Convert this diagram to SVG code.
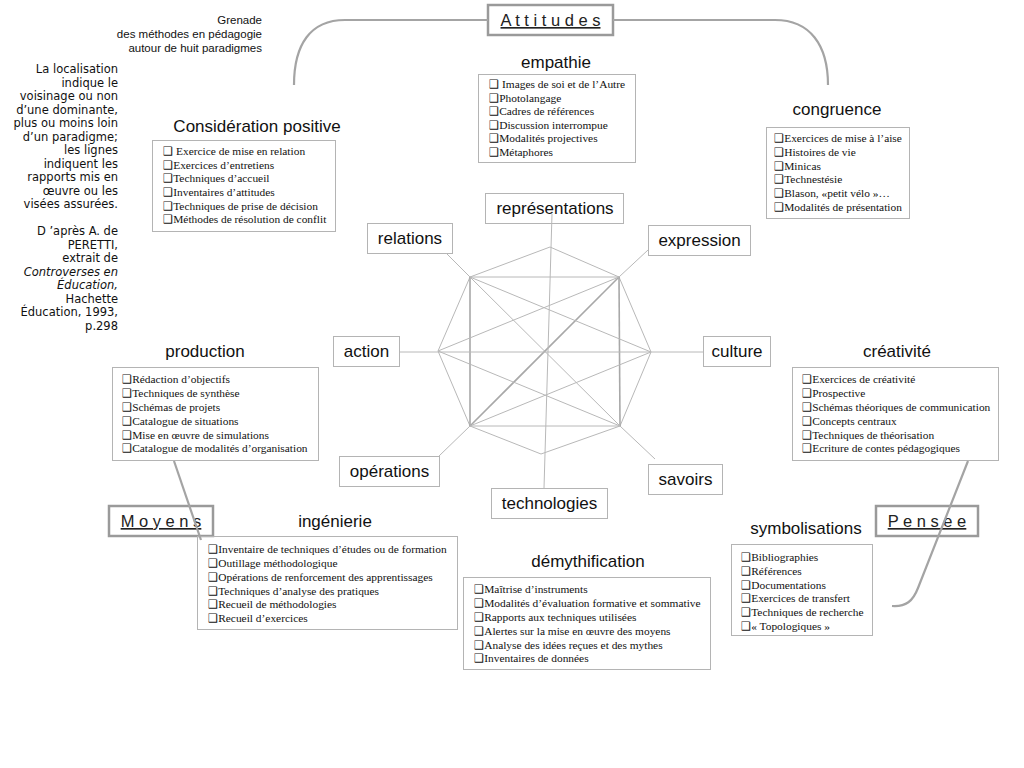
<svg xmlns="http://www.w3.org/2000/svg" width="1024" height="768" viewBox="0 0 1024 768">
<style>
.bg{fill:#ffffff}
.box{fill:none;stroke:#b4b4b4;stroke-width:1}
.hbox{fill:none;stroke:#9a9a9a;stroke-width:2.5}
.lbl{font-family:"Liberation Sans",Arial,sans-serif;font-size:17px;fill:#111;text-anchor:middle}
.ttl{font-family:"Liberation Sans",Arial,sans-serif;font-size:17px;fill:#111;text-anchor:middle}
.big{font-family:"Liberation Sans",Arial,sans-serif;font-size:16.5px;fill:#222;text-anchor:middle;text-decoration:underline}
.it{font-family:"Liberation Serif","Times New Roman","DejaVu Sans",serif;font-size:11.4px;fill:#111}
.hd{font-family:"Liberation Sans",Arial,sans-serif;font-size:11.5px;fill:#111;text-anchor:end}
.nt{font-family:"DejaVu Sans",sans-serif;font-size:11.5px;fill:#111;text-anchor:end}
.ln{fill:none;stroke:#b8b8b8;stroke-width:1}
.lnb{fill:none;stroke:#a8a8a8;stroke-width:1.6}
.arc{fill:none;stroke:#a4a4a4;stroke-width:2.2}
</style>
<rect class="bg" x="0" y="0" width="1024" height="768"/>

<g id="header">
<text class="hd" x="262" y="24">Grenade</text>
<text class="hd" x="262" y="38">des méthodes en pédagogie</text>
<text class="hd" x="262" y="52">autour de huit paradigmes</text>
</g>

<g id="note">
<text class="nt" x="118" y="73">La localisation</text>
<text class="nt" x="118" y="86.5">indique le</text>
<text class="nt" x="118" y="100">voisinage ou non</text>
<text class="nt" x="118" y="113.5">d’une dominante,</text>
<text class="nt" x="118" y="127">plus ou moins loin</text>
<text class="nt" x="118" y="140.5">d’un paradigme;</text>
<text class="nt" x="118" y="154">les lignes</text>
<text class="nt" x="118" y="167.5">indiquent les</text>
<text class="nt" x="118" y="181">rapports mis en</text>
<text class="nt" x="118" y="194.5">œuvre ou les</text>
<text class="nt" x="118" y="208">visées assurées.</text>
<text class="nt" x="118" y="235">D ’après A. de</text>
<text class="nt" x="118" y="248.5">PERETTI,</text>
<text class="nt" x="118" y="262">extrait de</text>
<text class="nt" x="118" y="275.5" font-style="italic">Controverses en</text>
<text class="nt" x="118" y="289" font-style="italic">Éducation,</text>
<text class="nt" x="118" y="302.5">Hachette</text>
<text class="nt" x="118" y="316">Éducation, 1993,</text>
<text class="nt" x="118" y="329.5">p.298</text>
</g>

<g id="attitudes">
<rect class="hbox" x="488" y="5" width="125" height="30"/>
<text class="big" x="550.5" y="26">A t t i t u d e s</text>
</g>
<g id="moyens">
<rect class="hbox" x="109" y="506" width="104" height="30"/>
<text class="big" x="161" y="527">M o y e n s</text>
</g>
<g id="pensee">
<rect class="hbox" x="876" y="506" width="102" height="30"/>
<text class="big" x="927" y="527">P e n s e e</text>
</g>

<g id="empathie">
<text class="ttl" x="556" y="68">empathie</text>
<rect class="box" x="478.5" y="74.5" width="157" height="88"/>
<text class="it" x="489" y="88">❑ Images de soi et de l’Autre</text>
<text class="it" x="489" y="101.5">❑Photolangage</text>
<text class="it" x="489" y="115">❑Cadres de références</text>
<text class="it" x="489" y="128.5">❑Discussion interrompue</text>
<text class="it" x="489" y="142">❑Modalités projectives</text>
<text class="it" x="489" y="155.5">❑Métaphores</text>
</g>

<g id="congruence">
<text class="ttl" x="837" y="115">congruence</text>
<rect class="box" x="766.5" y="127.5" width="143" height="91"/>
<text class="it" x="774" y="142">❑Exercices de mise à l’aise</text>
<text class="it" x="774" y="156">❑Histoires de vie</text>
<text class="it" x="774" y="169.5">❑Minicas</text>
<text class="it" x="774" y="183">❑Technestésie</text>
<text class="it" x="774" y="197">❑Blason, «petit vélo »…</text>
<text class="it" x="774" y="211">❑Modalités de présentation</text>
</g>

<g id="consideration">
<text class="ttl" x="257" y="132">Considération positive</text>
<rect class="box" x="152.5" y="140.5" width="183" height="91"/>
<text class="it" x="163" y="155">❑ Exercice de mise en relation</text>
<text class="it" x="163" y="168.5">❑Exercices d’entretiens</text>
<text class="it" x="163" y="182">❑Techniques d’accueil</text>
<text class="it" x="163" y="196">❑Inventaires d’attitudes</text>
<text class="it" x="163" y="209.5">❑Techniques de prise de décision</text>
<text class="it" x="163" y="223">❑Méthodes de résolution de conflit</text>
</g>

<g id="production">
<text class="ttl" x="205" y="357">production</text>
<rect class="box" x="112.5" y="367.5" width="206" height="93"/>
<text class="it" x="122" y="383">❑Rédaction d’objectifs</text>
<text class="it" x="122" y="397">❑Techniques de synthèse</text>
<text class="it" x="122" y="411">❑Schémas de projets</text>
<text class="it" x="122" y="425">❑Catalogue de situations</text>
<text class="it" x="122" y="438.5">❑Mise en œuvre de simulations</text>
<text class="it" x="122" y="452">❑Catalogue de modalités d’organisation</text>
</g>

<g id="creativite">
<text class="ttl" x="897" y="357">créativité</text>
<rect class="box" x="792.5" y="367.5" width="206" height="93"/>
<text class="it" x="802" y="383">❑Exercices de créativité</text>
<text class="it" x="802" y="397">❑Prospective</text>
<text class="it" x="802" y="411">❑Schémas théoriques de communication</text>
<text class="it" x="802" y="425">❑Concepts centraux</text>
<text class="it" x="802" y="438.5">❑Techniques de théorisation</text>
<text class="it" x="802" y="452">❑Ecriture de contes pédagogiques</text>
</g>

<g id="ingenierie">
<text class="ttl" x="335" y="527">ingénierie</text>
<rect class="box" x="197.5" y="536.5" width="260" height="93"/>
<text class="it" x="208" y="553">❑Inventaire de techniques d’études ou de formation</text>
<text class="it" x="208" y="567">❑Outillage méthodologique</text>
<text class="it" x="208" y="581">❑Opérations de renforcement des apprentissages</text>
<text class="it" x="208" y="594.5">❑Techniques d’analyse des pratiques</text>
<text class="it" x="208" y="608">❑Recueil de méthodologies</text>
<text class="it" x="208" y="621.5">❑Recueil d’exercices</text>
</g>

<g id="demythification">
<text class="ttl" x="588" y="567">démythification</text>
<rect class="box" x="463.5" y="577.5" width="247" height="92"/>
<text class="it" x="474" y="593">❑Maîtrise d’instruments</text>
<text class="it" x="474" y="607">❑Modalités d’évaluation formative et sommative</text>
<text class="it" x="474" y="621">❑Rapports aux techniques utilisées</text>
<text class="it" x="474" y="635">❑Alertes sur la mise en œuvre des moyens</text>
<text class="it" x="474" y="648.5">❑Analyse des idées reçues et des mythes</text>
<text class="it" x="474" y="662">❑Inventaires de données</text>
</g>

<g id="symbolisations">
<text class="ttl" x="806" y="534">symbolisations</text>
<rect class="box" x="731.5" y="544.5" width="141" height="91"/>
<text class="it" x="741" y="561">❑Bibliographies</text>
<text class="it" x="741" y="575">❑Références</text>
<text class="it" x="741" y="588.5">❑Documentations</text>
<text class="it" x="741" y="602">❑Exercices de transfert</text>
<text class="it" x="741" y="616">❑Techniques de recherche</text>
<text class="it" x="741" y="630">❑« Topologiques »</text>
</g>

<g id="representations"><rect class="box" x="485.5" y="193.5" width="138" height="30"/><text class="lbl" x="555" y="214">représentations</text></g>
<g id="relations"><rect class="box" x="367.5" y="223.5" width="85" height="30"/><text class="lbl" x="410" y="244">relations</text></g>
<g id="expression"><rect class="box" x="648.5" y="225.5" width="102" height="30"/><text class="lbl" x="699.5" y="246">expression</text></g>
<g id="action"><rect class="box" x="333.5" y="336.5" width="66" height="30"/><text class="lbl" x="366.5" y="357">action</text></g>
<g id="culture"><rect class="box" x="703.5" y="336.5" width="67" height="30"/><text class="lbl" x="737" y="357">culture</text></g>
<g id="operations"><rect class="box" x="339.5" y="456.5" width="100" height="30"/><text class="lbl" x="389.5" y="477">opérations</text></g>
<g id="savoirs"><rect class="box" x="648.5" y="464.5" width="74" height="30"/><text class="lbl" x="685.5" y="485">savoirs</text></g>
<g id="technologies"><rect class="box" x="491.5" y="488.5" width="116" height="30"/><text class="lbl" x="549.5" y="509">technologies</text></g>

<g id="connectors">
<path class="arc" d="M294 85 C294 45 310 20 345 20 L488 20"/>
<path class="arc" d="M613 20 L775 20 C810 20 828 45 828 85"/>
<path class="arc" d="M174 461 L201 540"/>
<path class="arc" d="M968 461 L918 588 C913 601 906 607 892 606"/>
<polygon class="ln" points="550,247 619,277 651,352 620,426 541,454 470,426 438,351 470,277"/>
<line class="ln" x1="470" y1="277" x2="619" y2="277"/>
<line class="lnb" x1="619" y1="277" x2="620" y2="426"/>
<line class="ln" x1="620" y1="426" x2="470" y2="426"/>
<line class="lnb" x1="470" y1="426" x2="470" y2="277"/>
<line class="ln" x1="470" y1="277" x2="620" y2="426"/>
<line class="lnb" x1="619" y1="277" x2="470" y2="426"/>
<line class="ln" x1="400" y1="352" x2="703" y2="352"/>
<line class="ln" x1="438" y1="351" x2="619" y2="277"/>
<line class="ln" x1="438" y1="351" x2="620" y2="426"/>
<line class="ln" x1="651" y1="352" x2="470" y2="277"/>
<line class="ln" x1="651" y1="352" x2="470" y2="426"/>
<line class="ln" x1="552" y1="214" x2="544" y2="488"/>
<line class="ln" x1="446" y1="253" x2="470" y2="277"/>
<line class="ln" x1="648" y1="250" x2="619" y2="277"/>
<line class="ln" x1="620" y1="426" x2="655" y2="459"/>
<line class="ln" x1="439" y1="456" x2="470" y2="426"/>
</g>
</svg>
